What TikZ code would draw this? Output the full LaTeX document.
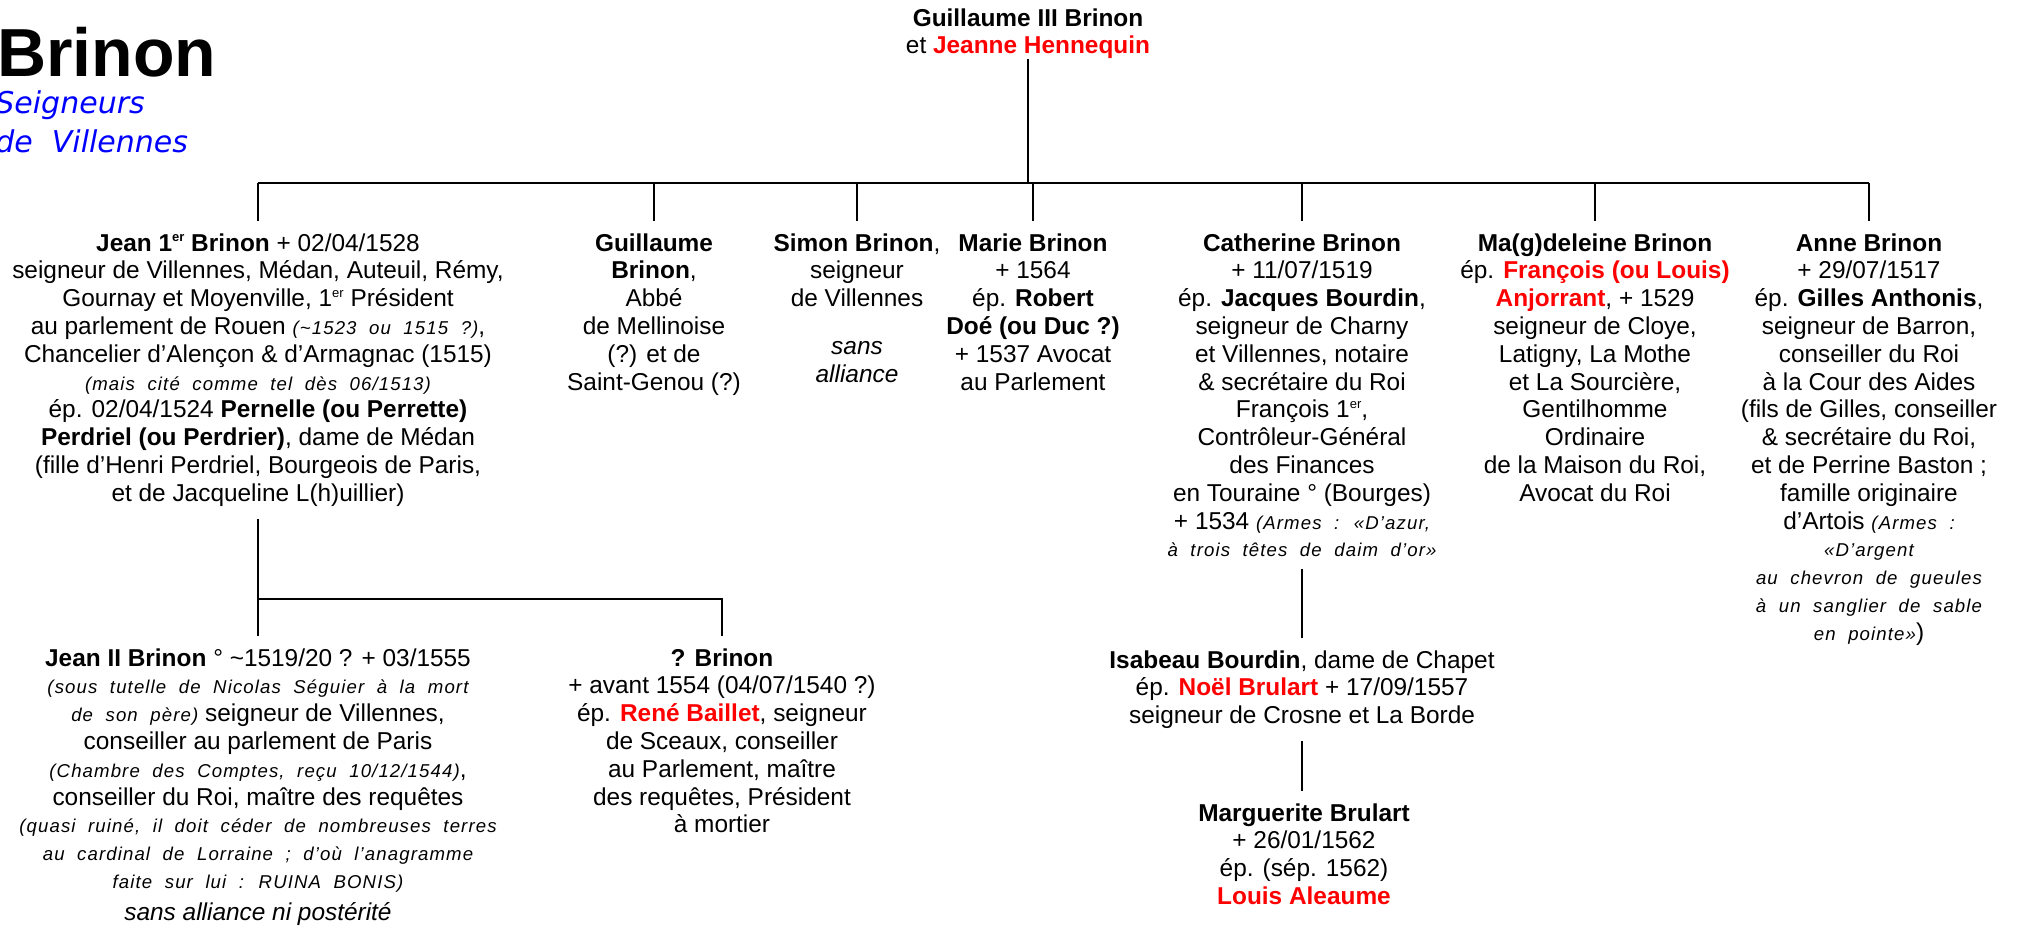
\documentclass[tikz,border=0pt]{standalone}
\usepackage{fontspec}
\setmainfont{Liberation Sans}
\newfontfamily\remarkfont{Liberation Sans}[LetterSpace=6,WordSpace=2]
\newfontfamily\verdanafont{DejaVu Sans}
\definecolor{spouse}{RGB}{255,0,0}
\definecolor{lordblue}{RGB}{0,0,255}
\newcommand{\conj}[1]{\textcolor{spouse}{\textbf{#1}}}
\newcommand{\remark}[1]{{\remarkfont\itshape\fontsize{9.3}{13.9}\selectfont #1}}
\newcommand{\ordsup}[1]{\raisebox{0.75ex}{\fontsize{6.5}{6.5}\selectfont #1}}

\begin{document}
\begin{tikzpicture}[x=0.5pt,y=-0.5pt,
    person/.style={anchor=north,align=center,inner xsep=0pt,inner ysep=6pt,
      font=\fontsize{12.2}{13.9}\selectfont},
    link/.style={line width=1.3pt}]
    \useasboundingbox (0,0) rectangle (2024,932);

    \node[anchor=base west,inner sep=0pt,font=\bfseries\fontsize{34}{40}\selectfont] (title) at (-3,76) {Brinon};
    \node[anchor=north west,inner sep=0pt,align=left,text=lordblue,
      font=\verdanafont\itshape\fontsize{15}{19.5}\selectfont] (subtitle) at (-5,90) {Seigneurs\\de\ \ Villennes};

    \node[person,inner ysep=0pt] (top) at (1028,8) {\textbf{Guillaume III Brinon}\\et \conj{Jeanne Hennequin}};

    \node[person] (jean) at (258,221) {\textbf{Jean 1\ordsup{er} Brinon} + 02/04/1528\\
      seigneur de Villennes, Médan, Auteuil, Rémy,\\
      Gournay et Moyenville, 1\ordsup{er} Président\\
      au parlement de Rouen \remark{(\textasciitilde1523 ou 1515 ?)},\\
      Chancelier d’Alençon \& d’Armagnac (1515)\\
      \remark{(mais cité comme tel dès 06/1513)}\\
      ép. 02/04/1524 \textbf{Pernelle (ou Perrette)}\\
      \textbf{Perdriel (ou Perdrier)}, dame de Médan\\
      (fille d’Henri Perdriel, Bourgeois de Paris,\\
      et de Jacqueline L(h)uillier)};
    \node[person] (guil) at (654,221) {\textbf{Guillaume}\\\textbf{Brinon},\\Abbé\\de Mellinoise\\(?) et de\\Saint-Genou (?)};
    \node[person] (simon) at (857,221) {\textbf{Simon Brinon},\\seigneur\\de Villennes\\[10pt]\textit{sans}\\\textit{alliance}};
    \node[person] (marie) at (1033,221) {\textbf{Marie Brinon}\\+ 1564\\ép. \textbf{Robert}\\\textbf{Doé (ou Duc ?)}\\+ 1537 Avocat\\au Parlement};
    \node[person] (cath) at (1302,221) {\textbf{Catherine Brinon}\\
      + 11/07/1519\\
      ép. \textbf{Jacques Bourdin},\\
      seigneur de Charny\\
      et Villennes, notaire\\
      \& secrétaire du Roi\\
      François 1\ordsup{er},\\
      Contrôleur-Général\\
      des Finances\\
      en Touraine ° (Bourges)\\
      + 1534 \remark{(Armes : «D’azur,}\\
      \remark{à trois têtes de daim d’or»}};
    \node[person] (mag) at (1595,221) {\textbf{Ma(g)deleine Brinon}\\
      ép. \conj{François (ou Louis)}\\
      \conj{Anjorrant}, + 1529\\
      seigneur de Cloye,\\
      Latigny, La Mothe\\
      et La Sourcière,\\
      Gentilhomme\\
      Ordinaire\\
      de la Maison du Roi,\\
      Avocat du Roi};
    \node[person] (anne) at (1869,221) {\textbf{Anne Brinon}\\
      + 29/07/1517\\
      ép. \textbf{Gilles Anthonis},\\
      seigneur de Barron,\\
      conseiller du Roi\\
      à la Cour des Aides\\
      (fils de Gilles, conseiller\\
      \& secrétaire du Roi,\\
      et de Perrine Baston ;\\
      famille originaire\\
      d’Artois \remark{(Armes :}\\
      \remark{«D’argent}\\
      \remark{au chevron de gueules}\\
      \remark{à un sanglier de sable}\\
      \remark{en pointe»})};

    \node[person] (jean2) at (258,636) {\textbf{Jean II Brinon} ° \textasciitilde1519/20 ? + 03/1555\\
      \remark{(sous tutelle de Nicolas Séguier à la mort}\\
      \remark{de son père)} seigneur de Villennes,\\
      conseiller au parlement de Paris\\
      \remark{(Chambre des Comptes, reçu 10/12/1544)},\\
      conseiller du Roi, maître des requêtes\\
      \remark{(quasi ruiné, il doit céder de nombreuses terres}\\
      \remark{au cardinal de Lorraine ; d’où l’anagramme}\\
      \remark{faite sur lui : RUINA BONIS)}\\[2pt]
      \textit{sans alliance ni postérité}};
    \node[person] (qbrin) at (722,636) {\textbf{? Brinon}\\
      + avant 1554 (04/07/1540 ?)\\
      ép. \conj{René Baillet}, seigneur\\
      de Sceaux, conseiller\\
      au Parlement, maître\\
      des requêtes, Président\\
      à mortier};
    \node[person] (isab) at (1302,638) {\textbf{Isabeau Bourdin}, dame de Chapet\\
      ép. \conj{Noël Brulart} + 17/09/1557\\
      seigneur de Crosne et La Borde};
    \node[person] (marg) at (1304,791) {\textbf{Marguerite Brulart}\\+ 26/01/1562\\ép. (sép. 1562)\\\conj{Louis Aleaume}};

    \coordinate (bar) at (0,183);
    \coordinate (fork) at (258,599);
    \draw[link] (top.south) -- (top.south |- bar);
    \draw[link] (jean.north |- bar) -- (anne.north |- bar);
    \foreach \n in {jean,guil,simon,marie,cath,mag,anne}{
      \draw[link] (\n.north |- bar) -- (\n.north);
    }
    \draw[link] (jean.south) -- (jean2.north);
    \draw[link] (fork) -| (qbrin.north);
    \draw[link] (cath.south) -- (isab.north);
    \draw[link] (isab.south) -- (isab.south |- marg.north);
  \end{tikzpicture}
\end{document}
